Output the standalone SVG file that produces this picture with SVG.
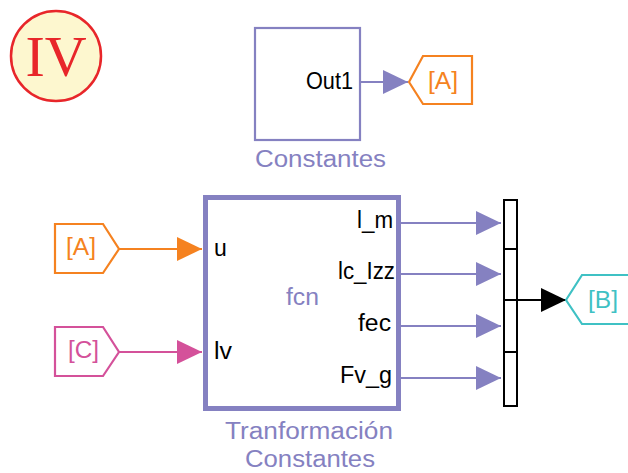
<svg xmlns="http://www.w3.org/2000/svg" width="628" height="473" viewBox="0 0 628 473">
  <style>
    .lbl { font-family: "Liberation Sans", Arial, sans-serif; font-size: 23px; }
    .blk { fill: #ffffff; stroke: #8581c1; }
    .pur { fill: #8581c1; }
    .blk-txt { fill: #000000; }
    .tag { fill: #ffffff; stroke-width: 2.2; }
    .wire { fill: none; stroke-width: 2.2; }
  </style>
  <defs>
    <marker id="arrPur" markerUnits="userSpaceOnUse" markerWidth="27" markerHeight="26" refX="25" refY="12" orient="auto">
      <path d="M0,0 L25,12 L0,24 z" fill="#8581c1"/>
    </marker>
    <marker id="arrOra" markerUnits="userSpaceOnUse" markerWidth="27" markerHeight="26" refX="25" refY="12" orient="auto">
      <path d="M0,0 L25,12 L0,24 z" fill="#f58220"/>
    </marker>
    <marker id="arrMag" markerUnits="userSpaceOnUse" markerWidth="27" markerHeight="26" refX="25" refY="12" orient="auto">
      <path d="M0,0 L25,12 L0,24 z" fill="#d4519a"/>
    </marker>
    <marker id="arrBlk" markerUnits="userSpaceOnUse" markerWidth="27" markerHeight="26" refX="25" refY="12" orient="auto">
      <path d="M0,0 L25,12 L0,24 z" fill="#000000"/>
    </marker>
  </defs>

  <rect width="628" height="473" fill="#ffffff"/>

  <!-- section badge -->
  <g id="badge">
    <circle cx="56" cy="56" r="45" fill="#fdf7cf" stroke="#e8262a" stroke-width="2.5"/>
    <text x="56" y="76" text-anchor="middle" font-family="'Liberation Serif', 'Times New Roman', serif" font-size="58" fill="#e8262a">IV</text>
  </g>

  <!-- connectors -->
  <g id="connectors">
    <line class="wire" x1="361" y1="82" x2="408" y2="82" stroke="#8581c1" marker-end="url(#arrPur)"/>
    <line class="wire" x1="119" y1="249" x2="202" y2="249" stroke="#f58220" marker-end="url(#arrOra)"/>
    <line class="wire" x1="119" y1="352" x2="202" y2="352" stroke="#d4519a" marker-end="url(#arrMag)"/>
    <line class="wire" x1="401" y1="223" x2="501" y2="223" stroke="#8581c1" marker-end="url(#arrPur)"/>
    <line class="wire" x1="401" y1="274" x2="501" y2="274" stroke="#8581c1" marker-end="url(#arrPur)"/>
    <line class="wire" x1="401" y1="326" x2="501" y2="326" stroke="#8581c1" marker-end="url(#arrPur)"/>
    <line class="wire" x1="401" y1="378" x2="501" y2="378" stroke="#8581c1" marker-end="url(#arrPur)"/>
    <line class="wire" x1="517" y1="300" x2="566" y2="300" stroke="#000000" marker-end="url(#arrBlk)"/>
  </g>

  <!-- constants subsystem -->
  <g id="constantes">
    <rect class="blk" x="255" y="28" width="105" height="112" stroke-width="2.2"/>
    <text class="lbl blk-txt" x="306" y="89" font-size="24" textLength="47" lengthAdjust="spacingAndGlyphs">Out1</text>
    <text class="lbl pur" x="255" y="167" font-size="24" textLength="131" lengthAdjust="spacingAndGlyphs">Constantes</text>
  </g>

  <!-- goto tag [A] -->
  <g id="goto-A">
    <polygon class="tag" points="409,82 423,56 472,56 472,104 423,104" stroke="#f58220"/>
    <text class="lbl" x="428" y="89" font-size="24" fill="#f58220" textLength="30" lengthAdjust="spacingAndGlyphs">[A]</text>
  </g>

  <!-- from tag [A] -->
  <g id="from-A">
    <polygon class="tag" points="55,224 103,224 119,249 103,273 55,273" stroke="#f58220"/>
    <text class="lbl" x="66" y="255" font-size="24" fill="#f58220" textLength="30" lengthAdjust="spacingAndGlyphs">[A]</text>
  </g>

  <!-- from tag [C] -->
  <g id="from-C">
    <polygon class="tag" points="55,327 103,327 119,352 103,376 55,376" stroke="#d4519a"/>
    <text class="lbl" x="68" y="358" font-size="24" fill="#d4519a" textLength="31" lengthAdjust="spacingAndGlyphs">[C]</text>
  </g>

  <!-- MATLAB function block -->
  <g id="fcn">
    <rect class="blk" x="205.5" y="197.5" width="193" height="211" stroke-width="5"/>
    <text class="lbl blk-txt" x="214" y="256">u</text>
    <text class="lbl blk-txt" x="214" y="359" textLength="18" lengthAdjust="spacingAndGlyphs">lv</text>
    <text class="lbl pur" x="286" y="305" font-size="24" textLength="33" lengthAdjust="spacingAndGlyphs">fcn</text>
    <text class="lbl blk-txt" x="357" y="228" textLength="36" lengthAdjust="spacingAndGlyphs">l_m</text>
    <text class="lbl blk-txt" x="338" y="279" textLength="57" lengthAdjust="spacingAndGlyphs">lc_Izz</text>
    <text class="lbl blk-txt" x="358" y="331" textLength="33" lengthAdjust="spacingAndGlyphs">fec</text>
    <text class="lbl blk-txt" x="340" y="383" textLength="52" lengthAdjust="spacingAndGlyphs">Fv_g</text>
    <text class="lbl pur" x="225" y="439" font-size="24" textLength="168" lengthAdjust="spacingAndGlyphs">Tranformación</text>
    <text class="lbl pur" x="245" y="467" font-size="24" textLength="130" lengthAdjust="spacingAndGlyphs">Constantes</text>
  </g>

  <!-- mux -->
  <g id="mux" fill="#ffffff" stroke="#000000" stroke-width="2">
    <rect x="504" y="200" width="13" height="206"/>
    <line x1="504" y1="249" x2="517" y2="249"/>
    <line x1="504" y1="300" x2="517" y2="300"/>
    <line x1="504" y1="352" x2="517" y2="352"/>
  </g>

  <!-- goto tag [B] -->
  <g id="goto-B">
    <polygon class="tag" points="566,300 582,275 632,275 632,324 582,324" stroke="#3fc1c4"/>
    <text class="lbl" x="588" y="308" font-size="24" fill="#3fc1c4" textLength="30" lengthAdjust="spacingAndGlyphs">[B]</text>
  </g>
</svg>
